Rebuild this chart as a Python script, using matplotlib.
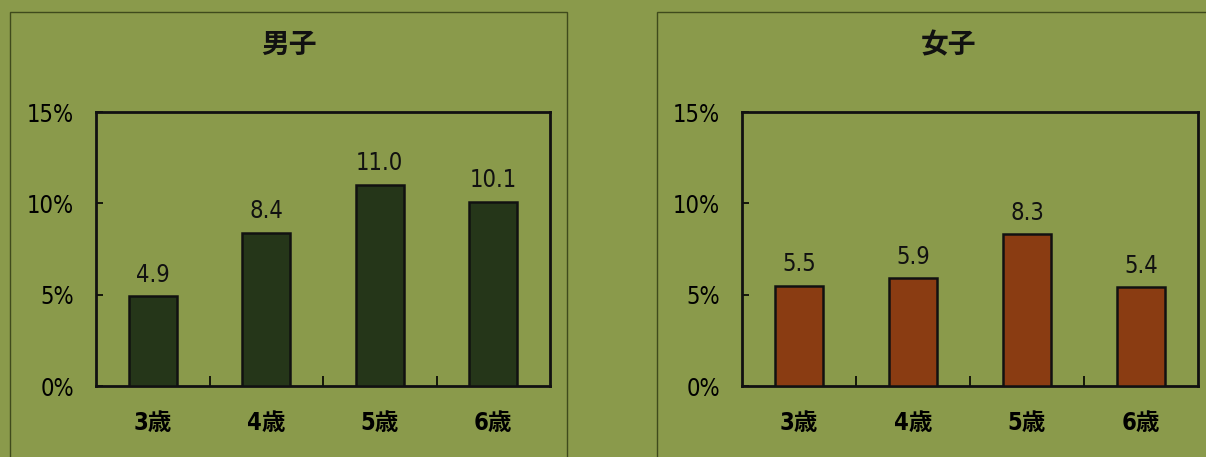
import matplotlib
matplotlib.use('Agg')
import matplotlib.pyplot as plt
from matplotlib.patches import Rectangle
from matplotlib.ticker import FixedLocator

# --- data ---
ages = ['3歳', '4歳', '5歳', '6歳']
boys = [4.9, 8.4, 11.0, 10.1]
girls = [5.5, 5.9, 8.3, 5.4]
y_ticks = [0, 5, 10, 15]
y_tick_labels = ['0%', '5%', '10%', '15%']

BG = '#8a9a4b'
FONT = ['DejaVu Sans', 'Noto Sans CJK JP']
plt.rcParams['font.family'] = FONT
plt.rcParams['font.stretch'] = 'condensed'

W, H = 1206, 457
fig = plt.figure(figsize=(W / 100, H / 100), dpi=100, facecolor=BG)


def px_axes(x0, y_top, x1, y_bot):
    return fig.add_axes([x0 / W, 1 - y_bot / H, (x1 - x0) / W, (y_bot - y_top) / H])


def draw_panel(box_x0, box_x1, ax_x0, ax_x1, title, values, color):
    # outer frame of the panel
    fig.patches.append(Rectangle((box_x0 / W, -0.05), (box_x1 - box_x0) / W,
                                 1.05 - 12 / H, transform=fig.transFigure,
                                 fill=False, edgecolor='#3f4a1c', linewidth=1.0))
    fig.text((box_x0 + box_x1) / 2 / W, 1 - 45 / H, title, ha='center', va='center',
             fontsize=20, fontweight='bold', family=['Noto Sans CJK JP'], color='#111111')

    ax = px_axes(ax_x0, 112, ax_x1, 386)
    ax.set_facecolor(BG)
    x = range(len(ages))
    ax.bar(x, values, width=0.42, color=color, edgecolor='#111111', linewidth=1.8, zorder=3)
    for xi, v in zip(x, values):
        ax.annotate(f'{v:.1f}', (xi, v), xytext=(0, 7), textcoords='offset points',
                    ha='center', va='bottom', fontsize=17, color='#111111')

    ax.set_xlim(-0.5, len(ages) - 0.5)
    ax.set_ylim(0, 15)
    ax.set_yticks(y_ticks)
    ax.set_yticklabels(y_tick_labels)
    ax.set_xticks(list(x))
    ax.set_xticklabels(ages)
    ax.xaxis.set_minor_locator(FixedLocator([0.5, 1.5, 2.5]))
    ax.tick_params(axis='x', which='major', length=0, pad=18, labelsize=17)
    ax.tick_params(axis='x', which='minor', direction='in', length=7, width=1.2)
    ax.tick_params(axis='y', direction='in', length=5, width=1.2, pad=16, labelsize=17)
    for lab in ax.get_xticklabels():
        lab.set_fontweight('bold')
    for s in ax.spines.values():
        s.set_linewidth(2.0)
        s.set_color('#111111')
    return ax


draw_panel(10, 567, 96, 550, '男子', boys, '#253619')
draw_panel(657, 1240, 742, 1198, '女子', girls, '#8a3c12')

fig.savefig('out.png', dpi=100, facecolor=BG)
